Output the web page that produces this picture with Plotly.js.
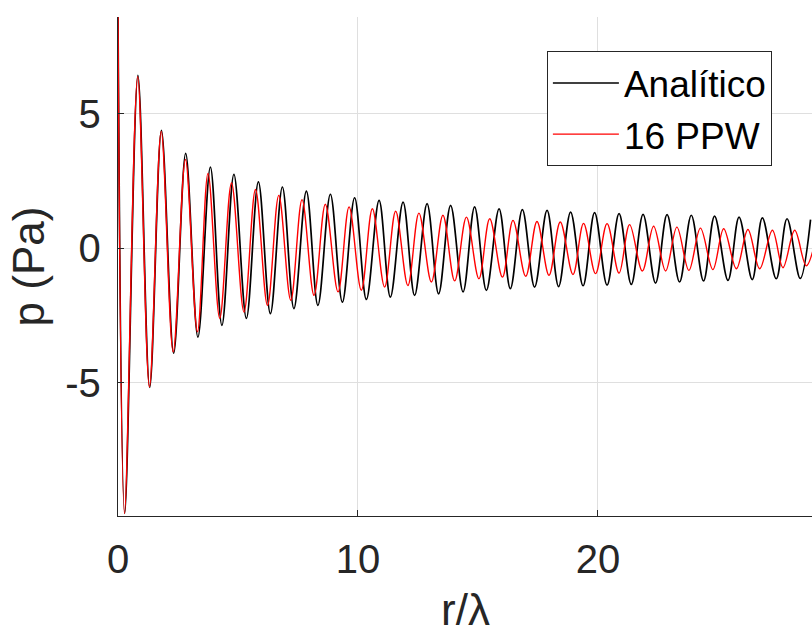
<!DOCTYPE html>
<html>
<head>
<meta charset="utf-8">
<script src="https://cdn.plot.ly/plotly-3.0.1.min.js"></script>
<style>html,body{margin:0;padding:0;background:#fff;}#chart{width:812px;height:637px;}</style>
</head>
<body>
<div id="chart"></div>
<script>
// Series names and axis labels
const seriesNames = ["Analítico", "16 PPW"];
const xLabel = "r/λ";
const yLabel = "p (Pa)";

// Analytical solution: extremes (r/λ, p in Pa)
const rAnalitico = [0.0, 0.28, 0.83, 1.32, 1.81, 2.32, 2.82, 3.33, 3.85, 4.33, 4.83, 5.35, 5.85, 6.35, 6.85, 7.33, 7.85, 8.33, 8.85, 9.35, 9.86,
  10.35, 10.88, 11.35, 11.88, 12.36, 12.88, 13.36, 13.86, 14.38, 14.86, 15.35, 15.88, 16.35, 16.85, 17.36, 17.88, 18.36, 18.86, 19.38, 19.86,
  20.38, 20.88, 21.39, 21.88, 22.4, 22.88, 23.4, 23.89, 24.4, 24.86, 25.42, 25.88, 26.43, 26.85, 27.43, 27.88, 28.43, 28.86];
const pAnalitico = [8.6, -9.85, 6.43, -5.17, 4.39, -3.9, 3.53, -3.3, 3.02, -2.86, 2.75, -2.6, 2.47, -2.43, 2.28, -2.24, 2.13, -2.12, 2.01, -2.0, 1.88,
  -1.9, 1.78, -1.81, 1.72, -1.75, 1.66, -1.69, 1.6, -1.62, 1.54, -1.56, 1.47, -1.5, 1.44, -1.44, 1.41, -1.42, 1.35, -1.39, 1.33,
  -1.37, 1.29, -1.34, 1.26, -1.29, 1.25, -1.25, 1.23, -1.21, 1.2, -1.19, 1.16, -1.16, 1.13, -1.13, 1.1, -1.12, 1.07];

// Numerical solution, 16 points per wavelength: extremes
const rPPW16 = [0.0, 0.27, 0.82, 1.31, 1.80, 2.30, 2.81, 3.31, 3.75, 4.24, 4.73, 5.25, 5.73, 6.23, 6.70, 7.20, 7.67, 8.17, 8.64, 9.17, 9.63,
  10.14, 10.60, 11.11, 11.57, 12.08, 12.54, 13.06, 13.54, 14.03, 14.52, 15.04, 15.49, 16.02, 16.46, 16.99, 17.46, 17.96, 18.43, 18.96, 19.40,
  19.90, 20.38, 20.88, 21.32, 21.85, 22.32, 22.82, 23.29, 23.79, 24.27, 24.79, 25.24, 25.77, 26.25, 26.74, 27.27, 27.71, 28.20, 28.68, 29.15];
const pPPW16 = [8.6, -9.85, 6.38, -5.15, 4.35, -3.85, 3.3, -3.1, 2.78, -2.6, 2.43, -2.37, 2.19, -2.12, 1.97, -1.93, 1.81, -1.75, 1.64, -1.62, 1.54,
  -1.56, 1.47, -1.44, 1.38, -1.38, 1.31, -1.25, 1.23, -1.21, 1.16, -1.13, 1.1, -1.07, 1.04, -1.04, 1.0, -1.0, 0.98, -0.97, 0.93,
  -0.94, 0.92, -0.92, 0.88, -0.84, 0.82, -0.84, 0.79, -0.82, 0.75, -0.79, 0.73, -0.76, 0.7, -0.76, 0.67, -0.72, 0.67, -0.65, 0.64];

// Axis ticks
const xTickVals = [0, 10, 20];
const xTickText = ["0", "10", "20"];
const yTickVals = [-5, 0, 5];
const yTickText = ["-5", "0", "5"];

const FONT = "Liberation Sans, Arial, Helvetica, sans-serif";
const AXC = "#262626";

const traces = [
  {x: rAnalitico, y: pAnalitico, name: seriesNames[0], mode: "lines",
   line: {color: "#000000", width: 1.7, shape: "spline", smoothing: 1}},
  {x: rPPW16, y: pPPW16, name: seriesNames[1], mode: "lines",
   line: {color: "#ff0000", width: 1.4, shape: "spline", smoothing: 1}}
];

const layout = {
  width: 812, height: 637,
  margin: {l: 118, r: 0, t: 17, b: 121, pad: 0},
  paper_bgcolor: "#ffffff", plot_bgcolor: "#ffffff",
  font: {family: FONT, color: AXC},
  showlegend: true,
  legend: {
    x: 0.618, y: 0.931, xanchor: "left", yanchor: "top",
    bgcolor: "#ffffff", bordercolor: AXC, borderwidth: 1,
    font: {family: FONT, size: 37, color: "#000000"},
    itemwidth: 66, tracegroupgap: 0
  },
  xaxis: {
    range: [0, 28.92], autorange: false,
    tickvals: xTickVals, ticktext: xTickText,
    ticks: "inside", ticklen: 6, tickwidth: 1, tickcolor: AXC,
    showline: true, linecolor: AXC, linewidth: 1.2, mirror: false,
    showgrid: true, gridcolor: "#dfdfdf", gridwidth: 1, zeroline: false,
    tickfont: {family: FONT, size: 40, color: AXC},
    ticklabelstandoff: 8
  },
  yaxis: {
    range: [-9.95, 8.6], autorange: false,
    tickvals: yTickVals, ticktext: yTickText,
    ticks: "inside", ticklen: 6, tickwidth: 1, tickcolor: AXC,
    showline: true, linecolor: AXC, linewidth: 1.2, mirror: false,
    showgrid: true, gridcolor: "#dfdfdf", gridwidth: 1, zeroline: false,
    tickfont: {family: FONT, size: 40, color: AXC},
    ticklabelstandoff: 8,
    title: {text: yLabel, font: {family: FONT, size: 44, color: AXC}, standoff: 6}
  },
  annotations: [
    {text: xLabel, xref: "paper", yref: "paper", x: 0.5, y: -0.2405,
     xanchor: "center", yanchor: "bottom", showarrow: false,
     font: {family: FONT, size: 44, color: AXC}}
  ]
};

Plotly.newPlot("chart", traces, layout, {staticPlot: true, displayModeBar: false});
</script>
</body>
</html>
